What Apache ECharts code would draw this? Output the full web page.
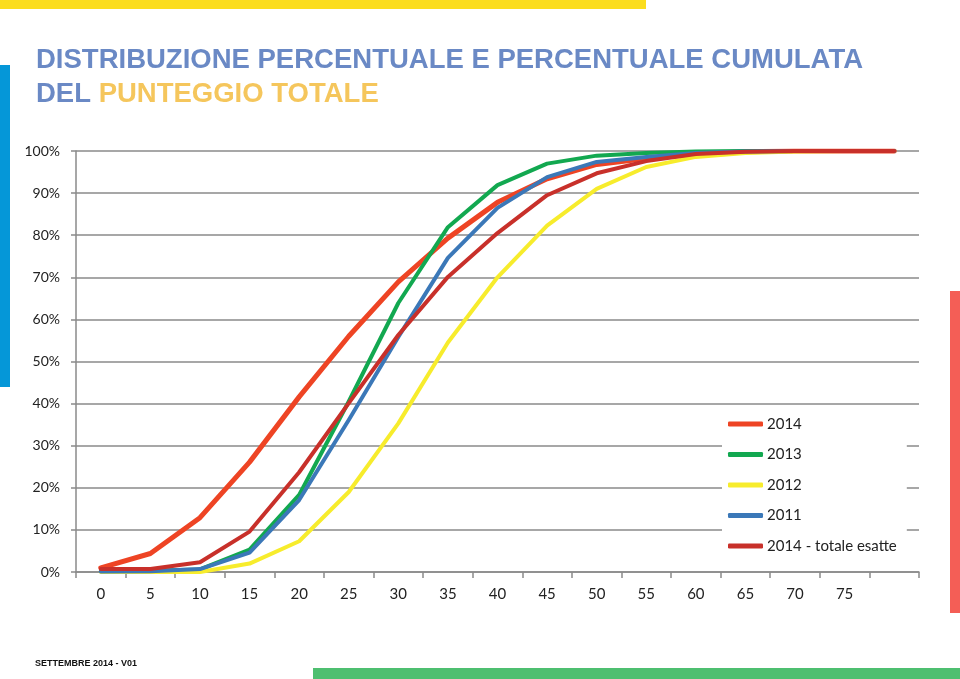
<!DOCTYPE html>
<html>
<head>
<meta charset="utf-8">
<script src="https://cdn.jsdelivr.net/npm/echarts@6/dist/echarts.min.js"></script>
<style>html,body{margin:0;padding:0;background:#fff}#c{width:960px;height:679px}</style>
</head>
<body>
<div id="c"></div>
<script>
var categories = ['0','5','10','15','20','25','30','35','40','45','50','55','60','65','70','75','80'];
var yTicks = [0,10,20,30,40,50,60,70,80,90,100];
var seriesNames = ['2014','2013','2012','2011','2014 - totale esatte'];
var s2014   = [1.0, 4.4, 12.9, 26.1, 41.6, 56.0, 68.9, 79.3, 87.8, 93.4, 96.8, 98.2, 99.3, 99.8, 100, 100, 100];
var s2013   = [0.2, 0.3, 0.6, 5.3, 18.3, 40.5, 63.9, 81.9, 91.9, 97.0, 98.9, 99.5, 99.9, 100, 100, 100, 100];
var s2012   = [0, 0, 0, 2.0, 7.3, 19.0, 35.3, 54.5, 70.0, 82.3, 91.0, 96.2, 98.6, 99.5, 99.9, 100, 100];
var s2011   = [0.1, 0.2, 0.7, 4.6, 17.1, 36.1, 55.8, 74.6, 86.5, 93.8, 97.4, 98.6, 99.5, 99.9, 100, 100, 100];
var sTotale = [0.7, 0.7, 2.3, 9.6, 23.7, 40.1, 56.3, 70.1, 80.5, 89.5, 94.7, 97.6, 99.3, 99.8, 100, 100, 100];
var seriesData = [s2014, s2013, s2012, s2011, sTotale];
var colors = ['#EE4424', '#12A850', '#F7EC2C', '#3B78B8', '#C8302A'];
var widths = [5, 4, 4, 4, 4];

var chart = echarts.init(document.getElementById('c'), null, {renderer: 'canvas'});
var font = 'Lato, "Open Sans", sans-serif';
var tfont = '"Liberation Sans", Arial, sans-serif';
chart.setOption({
  animation: false,
  backgroundColor: '#ffffff',
  title: {
    left: 36, top: 43, padding: 0,
    text: '{a|DISTRIBUZIONE PERCENTUALE E PERCENTUALE CUMULATA}\n{a|DEL }{b|PUNTEGGIO TOTALE}',
    textStyle: {
      rich: {
        a: {fontFamily: tfont, fontWeight: 'bold', fontSize: 27.5, color: '#6A89C5', lineHeight: 34.5},
        b: {fontFamily: tfont, fontWeight: 'bold', fontSize: 27.5, color: '#F5C65C', lineHeight: 34.5}
      }
    }
  },
  graphic: [
    {type: 'rect', shape: {x: 0, y: 0, width: 646, height: 9}, style: {fill: '#FBDD1E'}},
    {type: 'rect', shape: {x: 0, y: 65, width: 10, height: 322}, style: {fill: '#0597D8'}},
    {type: 'rect', shape: {x: 950, y: 291, width: 10, height: 322}, style: {fill: '#F45E56'}},
    {type: 'rect', shape: {x: 313, y: 668, width: 647, height: 11}, style: {fill: '#4EBF70'}},
    {type: 'text', left: 35, top: 659, style: {text: 'SETTEMBRE 2014 - V01', fontFamily: tfont, fontWeight: 'bold', fontSize: 9, fill: '#111'}}
  ],
  legend: {
    orient: 'vertical',
    left: 722, top: 406,
    padding: [8, 10, 8, 6],
    backgroundColor: '#ffffff',
    itemGap: 10.5,
    itemWidth: 35, itemHeight: 5,
    icon: 'roundRect',
    data: seriesNames,
    textStyle: {fontFamily: font, fontSize: 15, color: '#222', lineHeight: 20, padding: [0,0,0,-1]}
  },
  grid: {left: 76, right: 41, top: 151, bottom: 107, containLabel: false},
  xAxis: {
    type: 'category',
    data: categories,
    boundaryGap: true,
    axisLine: {lineStyle: {color: '#8a8a8a', width: 1.5}},
    axisTick: {show: true, length: 6, lineStyle: {color: '#8a8a8a', width: 1.5}},
    axisLabel: {
      margin: 15, fontFamily: font, fontSize: 15, color: '#222',
      formatter: function (v, i) { return i === categories.length - 1 ? '' : v; }
    },
    splitLine: {show: false}
  },
  yAxis: {
    type: 'value',
    min: yTicks[0], max: yTicks[yTicks.length - 1], interval: 10,
    axisLine: {show: true, lineStyle: {color: '#8a8a8a', width: 1.5}},
    axisTick: {show: true, length: 5, lineStyle: {color: '#8a8a8a', width: 1.5}},
    axisLabel: {margin: 16, fontFamily: font, fontSize: 14, color: '#222', formatter: '{value}%'},
    splitLine: {show: true, lineStyle: {color: '#8a8a8a', width: 1.5}}
  },
  series: seriesNames.map(function (n, i) {
    return {
      name: n, type: 'line', data: seriesData[i],
      showSymbol: false, symbol: 'none',
      color: colors[i],
      lineStyle: {color: colors[i], width: widths[i], cap: 'round', join: 'round'},
      z: 2 + i
    };
  })
});
</script>
</body>
</html>
